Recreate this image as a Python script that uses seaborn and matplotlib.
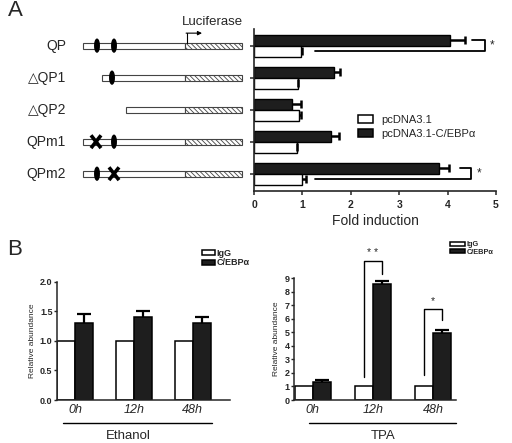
import numpy as np
import pandas as pd
import seaborn as sns
import matplotlib.pyplot as plt
from matplotlib.patches import Rectangle, Ellipse, Patch

# ---- data ----
constructs = ["QP", "△QP1", "△QP2", "QPm1", "QPm2"]
fold_ctrl = [0.97, 0.90, 0.93, 0.88, 1.00]
fold_ctrl_err = [0.03, 0.00, 0.04, 0.00, 0.07]
fold_cebp = [4.05, 1.65, 0.78, 1.60, 3.82]
fold_cebp_err = [0.30, 0.13, 0.20, 0.15, 0.20]

times = ["0h", "12h", "48h"]
eth_igg = [1.0, 1.0, 1.0]
eth_cebp = [1.30, 1.40, 1.30]
eth_cebp_err = [0.15, 0.10, 0.10]
tpa_igg = [1.0, 1.0, 1.0]
tpa_cebp = [1.30, 8.60, 4.95]
tpa_cebp_err = [0.20, 0.20, 0.25]

sns.set_style("ticks")
plt.rcParams["font.family"] = ["Liberation Sans", "DejaVu Sans"]
plt.rcParams["hatch.color"] = "#555555"
plt.rcParams["hatch.linewidth"] = 0.6

W, H = 512, 443
fig = plt.figure(figsize=(W / 100, H / 100), dpi=100)


def rect(l, t, r, b):
    # pixel box -> figure fraction
    return [l / W, 1 - b / H, (r - l) / W, (b - t) / H]


def fx(x):
    return x / W


def fy(y):
    return 1 - y / H


DARK = "#1e1e1e"

# ================= panel A : fold induction =================
ax_a = fig.add_axes(rect(254, 29.3, 496, 191))
df_a = pd.DataFrame({
    "construct": constructs * 2,
    "fold": fold_cebp + fold_ctrl,
    "vector": ["pcDNA3.1-C/EBPα"] * 5 + ["pcDNA3.1"] * 5,
})
sns.barplot(data=df_a, y="construct", x="fold", hue="vector",
            hue_order=["pcDNA3.1-C/EBPα", "pcDNA3.1"],
            palette={"pcDNA3.1-C/EBPα": DARK, "pcDNA3.1": "white"},
            orient="h", width=0.69, edgecolor="black", linewidth=1.0,
            errorbar=None, legend=False, ax=ax_a)
ypos = np.arange(len(constructs))
off = 0.69 / 4
# one-sided error bars, cap only at the outer end
for vals, errs, yy in [(fold_cebp, fold_cebp_err, ypos - off),
                       (fold_ctrl, fold_ctrl_err, ypos + off)]:
    ends = np.array(vals) + np.array(errs)
    ax_a.hlines(yy, vals, ends, color="black", lw=1.8)
    ax_a.plot(ends, yy, ls="none", marker="|", ms=6, mew=1.8, color="black")
ax_a.set_xlim(0, 5)
ax_a.set_ylim(4.54, -0.51)
ax_a.set_xticks(range(6))
ax_a.set_xticklabels([str(i) for i in range(6)], fontsize=7.5, fontweight="bold")
ax_a.set_yticks(ypos)
ax_a.set_yticklabels([])
ax_a.set_ylabel("")
ax_a.set_xlabel("Fold induction", fontsize=10, labelpad=3)
ax_a.tick_params(length=3, width=1.1)
for s in ["left", "bottom"]:
    ax_a.spines[s].set_linewidth(1.2)
sns.despine(ax=ax_a)

# significance brackets
for gi, x0, x1, xr, xs in [(0, 4.51, 1.26, 4.78, 4.91), (4, 4.26, 1.26, 4.48, 4.65)]:
    ax_a.plot([x0, xr, xr, x1], [gi - off, gi - off, gi + off, gi + off],
              color="black", lw=1.3, clip_on=False)
    ax_a.text(xs, gi - 0.02, "*", fontsize=8.5, ha="center", va="center")

ax_a.legend(handles=[Patch(facecolor="white", edgecolor="black", lw=1.1),
                     Patch(facecolor=DARK, edgecolor="black", lw=1.1)],
            labels=["pcDNA3.1", "pcDNA3.1-C/EBPα"],
            loc="upper left", bbox_to_anchor=(fx(357.5), fy(115)),
            bbox_transform=fig.transFigure, frameon=False, fontsize=8,
            handlelength=1.36, handleheight=0.72, handletextpad=0.8,
            labelspacing=0.35, borderpad=0, borderaxespad=0)

# promoter schematic
ax_s = fig.add_axes(rect(0, 29.3, 250, 191))
ax_s.set_xlim(0, 250)
ax_s.set_ylim(4.54, -0.51)
ax_s.axis("off")
starts = [83, 102, 126, 83, 83]
motifs = [[("o", 97), ("o", 114)], [("o", 112)], [], [("x", 96), ("o", 114)],
          [("o", 97), ("x", 114)]]
tss, luc_end, hh = 185, 242, 0.19
for i, name in enumerate(constructs):
    ax_s.add_patch(Rectangle((starts[i], i - hh / 2), tss - starts[i], hh,
                             fc="white", ec="#444444", lw=0.8))
    ax_s.add_patch(Rectangle((tss, i - hh / 2), luc_end - tss, hh,
                             fc="white", ec="#444444", lw=0.8, hatch="\\\\\\\\\\\\\\"))
    for kind, mx in motifs[i]:
        if kind == "o":
            ax_s.add_patch(Ellipse((mx, i), 4.5, 0.4, fc="black", ec="black"))
        else:
            ax_s.plot([mx - 5, mx + 5], [i - 0.2, i + 0.2], color="black", lw=2.6,
                      solid_capstyle="butt")
            ax_s.plot([mx - 5, mx + 5], [i + 0.2, i - 0.2], color="black", lw=2.6,
                      solid_capstyle="butt")
    ax_s.text(66, i, name, ha="right", va="center", fontsize=10)
ax_s.plot([186.5, 186.5], [-hh / 2, -0.39], color="black", lw=0.8)
ax_s.annotate("", xy=(202, -0.39), xytext=(186.1, -0.39),
              arrowprops=dict(arrowstyle="-|>", lw=0.8, color="black",
                              mutation_scale=6, shrinkA=0, shrinkB=0))
fig.text(fx(212.5), fy(25), "Luciferase", ha="center", va="baseline", fontsize=9.5)
fig.text(fx(7.5), fy(16), "A", fontsize=16, va="baseline")
fig.text(fx(7.5), fy(255), "B", fontsize=16, va="baseline")


# ================= panel B : ChIP =================
def chip_panel(box, igg, cebp, err, ymax, xlim, yticks, fmt, label, label_x, line_px,
               legend_px, legend_size, legend_hl):
    ax = fig.add_axes(rect(*box))
    df = pd.DataFrame({"time": times * 2, "abund": igg + cebp,
                       "ab": ["IgG"] * 3 + ["C/EBPα"] * 3})
    sns.barplot(data=df, x="time", y="abund", hue="ab", hue_order=["IgG", "C/EBPα"],
                palette={"IgG": "white", "C/EBPα": DARK}, width=0.6,
                edgecolor="black", linewidth=1.1, errorbar=None, legend=False, ax=ax)
    xpos = np.arange(3) + 0.15
    ends = np.array(cebp) + np.array(err)
    ax.vlines(xpos, cebp, ends, color="black", lw=1.6)
    ax.plot(xpos, ends, ls="none", marker="_", ms=9.5, mew=1.6, color="black")
    ax.set_ylim(0, ymax)
    ax.set_xlim(*xlim)
    ax.set_yticks(yticks)
    ax.set_yticklabels([fmt.format(v) for v in yticks], fontsize=6.5, fontweight="bold")
    ax.set_xticks(np.arange(3))
    ax.set_xticklabels(times, fontsize=9, style="italic")
    ax.set_xlabel("")
    ax.set_ylabel("Relative abundance", fontsize=6, labelpad=3)
    ax.tick_params(axis="y", length=2.5, width=1.0, pad=1)
    ax.tick_params(axis="x", length=0, pad=3)
    for s in ["left", "bottom"]:
        ax.spines[s].set_linewidth(1.1)
    sns.despine(ax=ax)
    ax.legend(handles=[Patch(facecolor="white", edgecolor="black", lw=1.1),
                       Patch(facecolor=DARK, edgecolor="black", lw=1.1)],
              labels=["IgG", "C/EBPα"], loc="upper left",
              bbox_to_anchor=(fx(legend_px[0]), fy(legend_px[1])),
              bbox_transform=fig.transFigure, frameon=False,
              prop=dict(size=legend_size, weight="bold"), handlelength=legend_hl,
              handleheight=0.42, handletextpad=0.2, labelspacing=0.05,
              borderpad=0, borderaxespad=0)
    fig.add_artist(plt.Line2D([fx(line_px[0]), fx(line_px[1])],
                              [fy(line_px[2]), fy(line_px[2])], color="black", lw=1.0))
    fig.text(fx(label_x), fy(436), label, ha="center", va="center", fontsize=9.5)
    return ax


chip_panel((57.3, 281.7, 230, 400), eth_igg, eth_cebp, eth_cebp_err, 2.0, (-0.3, 2.63),
           [0, 0.5, 1.0, 1.5, 2.0], "{:.1f}", "Ethanol", 128, (63, 212, 423),
           (201.5, 249), 6.5, 1.5)
ax_t = chip_panel((294.3, 278.3, 456, 400), tpa_igg, tpa_cebp, tpa_cebp_err, 9,
                  (-0.31, 2.38), list(range(10)), "{:d}", "TPA", 382.7, (309, 456, 423),
                  (450, 241.5), 5.3, 2.1)

# brackets on TPA chart
for g, yl, yt, yr, ys, txt in [(1, 1.72, 10.3, 9.3, 10.9, "* *"),
                              (2, 1.85, 6.73, 5.9, 7.3, "*")]:
    ax_t.plot([g - 0.15, g - 0.15, g + 0.15, g + 0.15], [yl, yt, yt, yr],
              color="black", lw=1.0, clip_on=False)
    ax_t.text(g, ys, txt, ha="center", va="center", fontsize=7.5)

fig.savefig("out.png", dpi=100)
